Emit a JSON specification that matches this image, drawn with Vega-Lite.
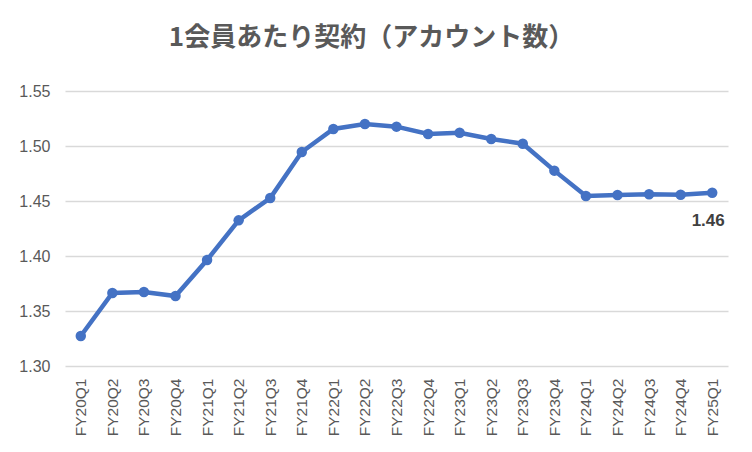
{
  "$schema": "https://vega.github.io/schema/vega-lite/v6.json",
  "autosize": {"type": "none"},
  "padding": {"left": 65, "top": 91, "right": 24, "bottom": 86},
  "width": 663,
  "height": 275,
  "background": "white",
  "title": {
    "text": "1会員あたり契約（アカウント数）",
    "font": "Noto Sans CJK JP",
    "fontSize": 26,
    "fontWeight": "bold",
    "color": "#595959",
    "anchor": "middle",
    "dx": -25,
    "offset": 32
  },
  "data": {
    "values": [
      {"q": "FY20Q1", "v": 1.3273},
      {"q": "FY20Q2", "v": 1.3664},
      {"q": "FY20Q3", "v": 1.3673},
      {"q": "FY20Q4", "v": 1.3636},
      {"q": "FY21Q1", "v": 1.3964},
      {"q": "FY21Q2", "v": 1.4324},
      {"q": "FY21Q3", "v": 1.4527},
      {"q": "FY21Q4", "v": 1.4945},
      {"q": "FY22Q1", "v": 1.5155},
      {"q": "FY22Q2", "v": 1.5200},
      {"q": "FY22Q3", "v": 1.5176},
      {"q": "FY22Q4", "v": 1.5109},
      {"q": "FY23Q1", "v": 1.5121},
      {"q": "FY23Q2", "v": 1.5064},
      {"q": "FY23Q3", "v": 1.5021},
      {"q": "FY23Q4", "v": 1.4776},
      {"q": "FY24Q1", "v": 1.4545},
      {"q": "FY24Q2", "v": 1.4555},
      {"q": "FY24Q3", "v": 1.4561},
      {"q": "FY24Q4", "v": 1.4557},
      {"q": "FY25Q1", "v": 1.4575}
    ]
  },
  "encoding": {
    "x": {
      "field": "q",
      "type": "ordinal",
      "sort": null,
      "scale": {"type": "point", "padding": 0.5},
      "axis": {
        "title": null,
        "labelAngle": -90,
        "labelFont": "Liberation Sans",
        "labelFontSize": 15.5,
        "labelColor": "#595959",
        "labelPadding": 12,
        "ticks": false,
        "domain": false,
        "grid": false
      }
    },
    "y": {
      "field": "v",
      "type": "quantitative",
      "scale": {"domain": [1.3, 1.55], "nice": false, "zero": false},
      "axis": {
        "title": null,
        "values": [1.3, 1.35, 1.4, 1.45, 1.5, 1.55],
        "format": ".2f",
        "labelFont": "Liberation Sans",
        "labelFontSize": 16,
        "labelColor": "#595959",
        "labelPadding": 15,
        "ticks": false,
        "domain": false,
        "gridColor": "#D9D9D9",
        "gridWidth": 1.5
      }
    }
  },
  "layer": [
    {
      "mark": {
        "type": "line",
        "color": "#4472C4",
        "strokeWidth": 4.5,
        "point": {"filled": true, "size": 110, "color": "#4472C4"}
      }
    },
    {
      "transform": [{"filter": "datum.q == 'FY25Q1'"}],
      "mark": {
        "type": "text",
        "font": "Liberation Sans",
        "fontSize": 17,
        "fontWeight": "bold",
        "color": "#404040",
        "dy": 28,
        "dx": -4
      },
      "encoding": {
        "text": {"field": "v", "type": "quantitative", "format": ".2f"}
      }
    }
  ],
  "config": {
    "view": {"stroke": null}
  }
}
